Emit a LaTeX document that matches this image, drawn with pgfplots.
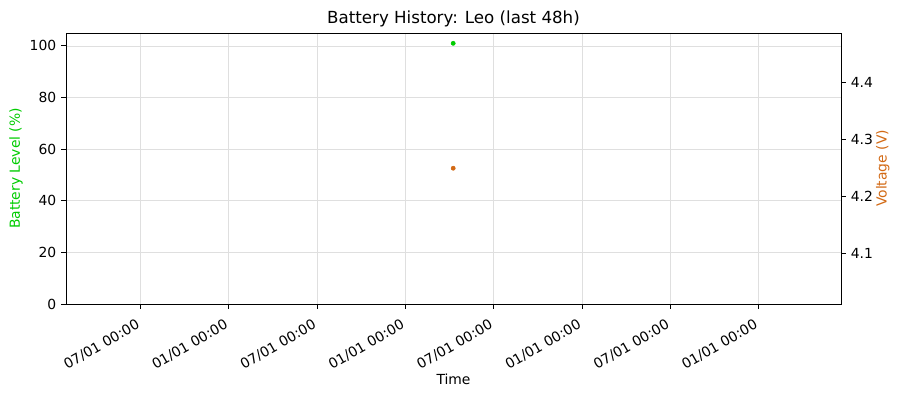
\documentclass[border=0pt]{standalone}
\usepackage{fontspec}
\setmainfont{DejaVu Sans}
\usepackage{pgfplots}
\pgfplotsset{compat=1.18}
\definecolor{battgreen}{RGB}{0,204,0}
\definecolor{voltorange}{RGB}{210,105,20}
\begin{document}
\begin{tikzpicture}
\pgfplotsset{
  base/.style={
    scale only axis,
    width=558pt, height=195.12pt,
    xmin=-0.843, xmax=7.934,
    /pgf/number format/assume math mode=true,
    tick align=outside,
    major tick length=3.5pt,
    tick style={black, line width=0.6pt},
    axis line style={line width=0.7pt},
    tick label style={font=\fontsize{10}{12}\selectfont},
    label style={font=\fontsize{10}{12}\selectfont},
  }
}
\begin{axis}[base,
  ymin=0, ymax=105,
  ytick={0,20,40,60,80,100},
  ytick pos=left,
  xtick pos=bottom,
  xtick={0,1,2,3,4,5,6,7},
  xticklabels={07/01 00:00,01/01 00:00,07/01 00:00,01/01 00:00,07/01 00:00,01/01 00:00,07/01 00:00,01/01 00:00},
  xticklabel style={rotate=30, anchor=north east, inner sep=1pt, xshift=-5.5pt, yshift=-3pt},
  grid=major,
  grid style={gray!25, line width=0.5pt},
  xlabel={Time},
  ylabel={Battery Level (\%)},
  every axis x label/.style={at={(axis description cs:0.5,0)}, yshift=-54pt, anchor=center},
  every axis y label/.style={at={(axis description cs:0,0.5)}, xshift=-36pt, rotate=90, anchor=center, color=battgreen},
  title={Battery History: Leo (last 48h)},
  title style={font=\fontsize{12}{14}\selectfont, at={(axis description cs:0.5,1)}, anchor=south, yshift=-5.5pt},
]
\addplot[only marks, mark=*, mark size=1.5pt, color=battgreen] coordinates {(3.542,101)};
\end{axis}
\begin{axis}[base,
  ymin=4.011, ymax=4.486,
  ytick={4.1,4.2,4.3,4.4},
  yticklabel style={/pgf/number format/fixed, /pgf/number format/precision=1, /pgf/number format/fixed zerofill},
  ytick pos=right,
  yticklabel pos=right,
  xtick=\empty,
  ylabel={Voltage (V)},
  every axis y label/.style={at={(axis description cs:1,0.5)}, xshift=30pt, rotate=90, anchor=center, color=voltorange},
]
\addplot[only marks, mark=*, mark size=1.5pt, color=voltorange] coordinates {(3.542,4.249)};
\end{axis}
\pgfresetboundingbox
\useasboundingbox (-47.52pt,-66.96pt) rectangle (601.2pt,218.88pt);
\end{tikzpicture}
\end{document}
